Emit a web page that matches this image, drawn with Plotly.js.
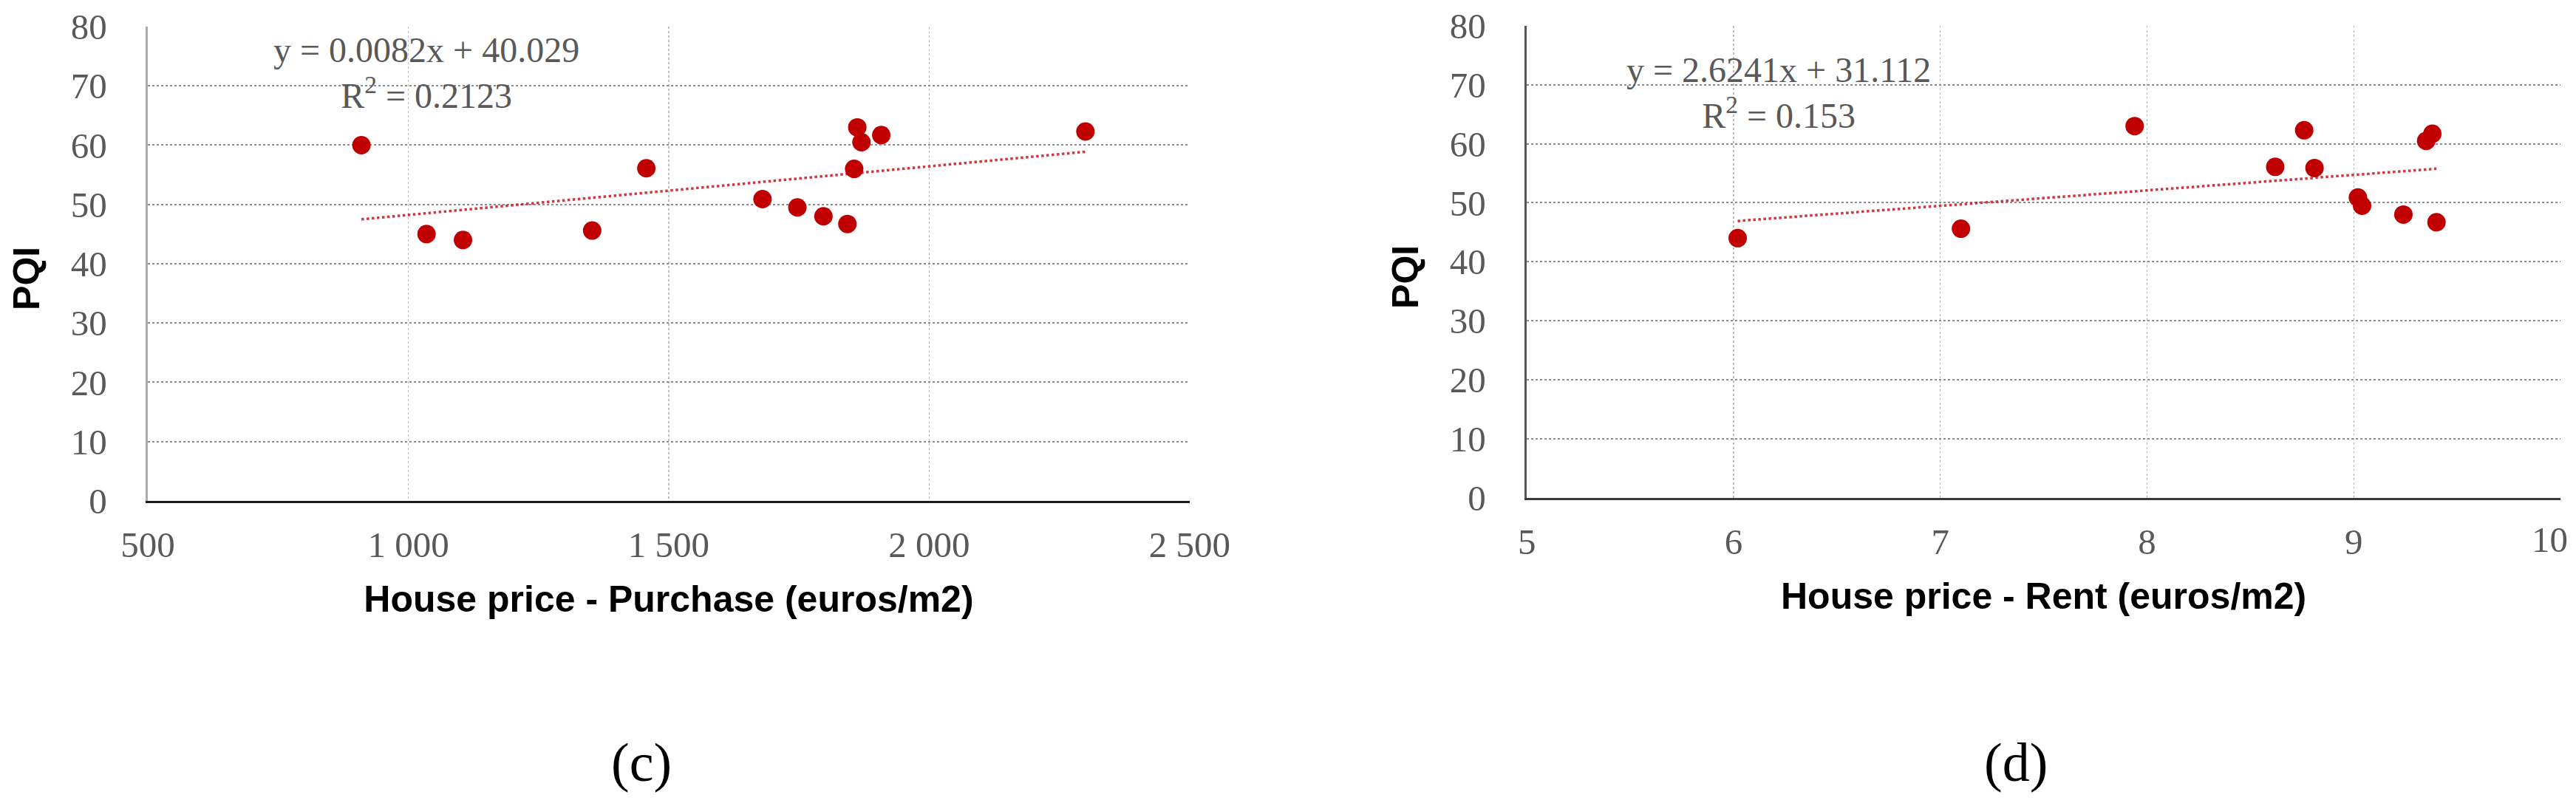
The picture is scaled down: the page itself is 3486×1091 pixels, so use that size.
<!DOCTYPE html>
<html>
<head>
<meta charset="utf-8">
<script src="https://cdn.plot.ly/plotly-3.0.1.min.js"></script>
<style>html,body{margin:0;padding:0;background:#fff;}#chart{width:3486px;height:1091px;}</style>
</head>
<body>
<div id="chart"></div>
<script>
// ---- Data: (c) House price - Purchase vs PQI
const purchasePrice = [910, 1035, 1105, 1353, 1457, 1680, 1747, 1797, 1843, 1856, 1862, 1870, 1908, 2300];
const purchasePQI   = [60.0, 45.0, 44.0, 45.6, 56.1, 50.9, 49.5, 48.0, 46.7, 56.0, 63.0, 60.5, 61.7, 62.3];
// ---- Data: (d) House price - Rent vs PQI
const rentPrice = [6.02, 7.10, 7.94, 8.62, 8.76, 8.81, 9.02, 9.04, 9.24, 9.35, 9.38, 9.40];
const rentPQI   = [44.0, 45.6, 63.0, 56.1, 62.3, 55.9, 50.9, 49.5, 48.0, 60.5, 61.7, 46.7];
// ---- Linear trend lines as printed on the chart
const purchaseTrend = [0.0082, 40.029];   // slope, intercept
const rentTrend     = [2.6241, 31.112];
const purchaseR2 = '0.2123';
const rentR2 = '0.153';
// ---- Axis ticks
const purchaseTickVals = [500, 1000, 1500, 2000, 2500];
const purchaseTickText = ['500', '1 000', '1 500', '2 000', '2 500'];
const rentTickVals = [5, 6, 7, 8, 9, 10];
const rentTickText = ['5', '6', '7', '8', '9', '10'];
const pqiTickVals = [0, 10, 20, 30, 40, 50, 60, 70, 80];

function trendXY(xs, coef) {
  const lo = Math.min(...xs), hi = Math.max(...xs);
  return {x: [lo, hi], y: [coef[0] * lo + coef[1], coef[0] * hi + coef[1]]};
}
const tP = trendXY(purchasePrice, purchaseTrend);
const tR = trendXY(rentPrice, rentTrend);

const markerStyle = {color: '#C00000', size: 25};
const trendStyle = {color: 'rgba(200,20,30,0.85)', width: 3.5, dash: 'dot'};

const traces = [
  {x: tP.x, y: tP.y, xaxis: 'x', yaxis: 'y', mode: 'lines', line: trendStyle, hoverinfo: 'skip'},
  {x: purchasePrice, y: purchasePQI, xaxis: 'x', yaxis: 'y', mode: 'markers', marker: markerStyle},
  {x: tR.x, y: tR.y, xaxis: 'x2', yaxis: 'y2', mode: 'lines', line: trendStyle, hoverinfo: 'skip'},
  {x: rentPrice, y: rentPQI, xaxis: 'x2', yaxis: 'y2', mode: 'markers', marker: markerStyle}
];

const tickFont = {family: '"Liberation Serif", "DejaVu Serif", serif', size: 49, color: '#595959'};
const titleFont = {family: '"Liberation Sans", Arial, sans-serif', size: 50, color: '#000'};

function xAxisBase(domain, lineColor) {
  return {
    domain: domain, showgrid: true, gridcolor: '#bdbdbd', gridwidth: 1.5, griddash: 'dot',
    showline: true, linecolor: lineColor, linewidth: 3.5, zeroline: false,
    ticks: '', tickfont: tickFont, ticklabelstandoff: 14, ticklabeloverflow: 'allow',
    fixedrange: true
  };
}
function yAxisBase(domain, anchor, lineColor) {
  return {
    domain: domain, anchor: anchor, range: [0, 80], tickvals: pqiTickVals,
    showgrid: true, gridcolor: '#8c8c8c', gridwidth: 2, griddash: 'dot',
    showline: true, linecolor: lineColor, linewidth: 3.5, mirror: false, zeroline: false,
    ticks: '', tickfont: tickFont, ticklabelstandoff: 42, fixedrange: true
  };
}

const xaxis = Object.assign(xAxisBase([0.0574, 0.4618], '#1a1a1a'), {
  anchor: 'y', range: [500, 2500], tickvals: purchaseTickVals, ticktext: purchaseTickText,
  title: {text: '<b>House price - Purchase (euros/m2)</b>', font: titleFont, standoff: 30}
});
// last rent tick label (at the page edge) is drawn as a right-anchored annotation below
const xaxis2 = Object.assign(xAxisBase([0.5927, 0.994], '#3a3a3a'), {
  anchor: 'y2', range: [5, 10], tickvals: rentTickVals,
  ticktext: rentTickText.slice(0, -1).concat(['']),
  title: {text: '<b>House price - Rent (euros/m2)</b>', font: titleFont, standoff: 30}
});
const yaxis = yAxisBase([0.3786, 0.967], 'x', '#ababab');
const yaxis2 = yAxisBase([0.3826, 0.9679], 'x2', '#555555');

const eqFont = {family: '"Liberation Serif", "DejaVu Serif", serif', size: 48, color: '#595959'};
const labelFont = {family: '"Liberation Serif", "DejaVu Serif", serif', size: 74, color: '#000'};

const annotations = [
  {xref: 'paper', yref: 'paper', x: 0.1655, y: 0.9093, xanchor: 'center', yanchor: 'middle', showarrow: false,
   text: 'y = ' + purchaseTrend[0] + 'x + ' + purchaseTrend[1] + '<br>R<sup>2</sup> = ' + purchaseR2, font: eqFont, align: 'center'},
  {xref: 'paper', yref: 'paper', x: 0.6905, y: 0.8854, xanchor: 'center', yanchor: 'middle', showarrow: false,
   text: 'y = ' + rentTrend[0] + 'x + ' + rentTrend[1] + '<br>R<sup>2</sup> = ' + rentR2, font: eqFont, align: 'center'},
  {xref: 'paper', yref: 'paper', x: 0.0103, y: 0.6544, xanchor: 'center', yanchor: 'middle', showarrow: false,
   text: '<b>PQI</b>', textangle: -90, font: titleFont},
  {xref: 'paper', yref: 'paper', x: 0.5456, y: 0.6563, xanchor: 'center', yanchor: 'middle', showarrow: false,
   text: '<b>PQI</b>', textangle: -90, font: titleFont},
  {xref: 'x2', yref: 'y2', x: rentTickVals[rentTickVals.length - 1], y: 0, xanchor: 'right', yanchor: 'top',
   xshift: 12, yshift: -27, showarrow: false, text: rentTickText[rentTickText.length - 1], font: tickFont},
  {xref: 'paper', yref: 'paper', x: 0.249, y: 0.0541, xanchor: 'center', yanchor: 'middle', showarrow: false,
   text: '(c)', font: labelFont},
  {xref: 'paper', yref: 'paper', x: 0.7826, y: 0.0541, xanchor: 'center', yanchor: 'middle', showarrow: false,
   text: '(d)', font: labelFont}
];

const layout = {
  width: 3486, height: 1091, margin: {l: 0, r: 0, t: 0, b: 0},
  paper_bgcolor: '#fff', plot_bgcolor: '#fff', showlegend: false,
  xaxis: xaxis, yaxis: yaxis, xaxis2: xaxis2, yaxis2: yaxis2,
  annotations: annotations
};
Plotly.newPlot('chart', traces, layout, {staticPlot: true, displayModeBar: false});
</script>
</body>
</html>
